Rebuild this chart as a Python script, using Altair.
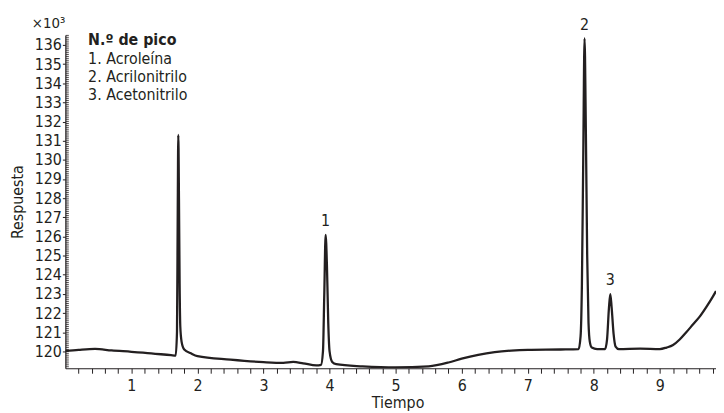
import altair as alt
import pandas as pd

# Chromatogram trace (time in min, response x10^3)
time = [0.0, 0.2, 0.45, 0.7, 1.0, 1.3, 1.6, 1.67, 1.69, 1.70, 1.71, 1.72, 1.73, 1.74, 1.76,
        1.8, 1.9, 2.0, 2.5, 3.0, 3.3, 3.45, 3.6, 3.8, 3.87, 3.9, 3.92, 3.94, 3.96, 3.98,
        4.0, 4.04, 4.1, 4.5, 5.0, 5.5, 5.8, 6.0, 6.25, 6.5, 6.75, 7.0, 7.5, 7.77, 7.80,
        7.82, 7.84, 7.86, 7.88, 7.90, 7.92, 7.94, 7.97, 8.05, 8.17, 8.20, 8.23, 8.25,
        8.27, 8.30, 8.33, 8.38, 8.7, 9.0, 9.1, 9.2, 9.3, 9.4, 9.5, 9.6, 9.7, 9.8, 9.85]
response = [120.02, 120.08, 120.13, 120.05, 119.98, 119.9, 119.8, 119.78, 121.0, 126.5,
            131.3, 128.0, 123.5, 121.3, 120.5, 120.1, 119.9, 119.75, 119.57, 119.44, 119.4,
            119.45, 119.38, 119.27, 119.3, 120.0, 123.0, 126.08, 124.5, 121.5, 120.0, 119.45,
            119.33, 119.22, 119.16, 119.22, 119.42, 119.62, 119.82, 119.96, 120.04, 120.08,
            120.1, 120.12, 120.8, 123.5, 130.0, 136.34, 131.5, 125.0, 121.5, 120.5, 120.2,
            120.12, 120.12, 120.6, 122.3, 122.99, 122.3, 120.9, 120.25, 120.12, 120.15,
            120.12, 120.2, 120.33, 120.62, 121.0, 121.4, 121.8, 122.3, 122.85, 123.15]

peak_time = [3.94, 7.86, 8.25]
peak_resp = [126.08, 136.34, 122.99]
peak_label = ["1", "2", "3"]

legend_title = "N.º de pico"
legend_items = ["1. Acroleína", "2. Acrilonitrilo", "3. Acetonitrilo"]

y_major = list(range(120, 137))

FONT = "Liberation Sans Narrow, DejaVu Sans Condensed, Arial Narrow, sans-serif"
INK = "#231f20"
XDOM = [0, 9.85]
YDOM = [119.12, 136.52]

x_minor = [round(0.2 * i, 1) for i in range(1, 50)]
y_minor = [round(119.2 + 0.1 * i, 1) for i in range(0, 174)]

df = pd.DataFrame({"t": time, "r": response})
peaks = pd.DataFrame({"t": peak_time, "r": peak_resp, "lab": peak_label})
yminor_df = pd.DataFrame({"v": y_minor})

xs = alt.Scale(domain=XDOM, nice=False, zero=False)
ys = alt.Scale(domain=YDOM, nice=False, zero=False)

xaxis = alt.Axis(values=x_minor,
                 labelExpr="datum.value % 1 == 0 ? format(datum.value, 'd') : ''",
                 labelOverlap=False, labelFlush=False,
                 tickSize=5, labelPadding=4, titleY=40, titleX=336,
                 titleBaseline="alphabetic")
yaxis = alt.Axis(values=y_major, format="d", tickSize=3, labelPadding=1,
                 labelOverlap=False, labelFlush=False,
                 titleX=-48, titleBaseline="middle")

line = alt.Chart(df).mark_line(color=INK, strokeWidth=2.3, interpolate="monotone", clip=True).encode(
    x=alt.X("t:Q", scale=xs, title="Tiempo", axis=xaxis),
    y=alt.Y("r:Q", scale=ys, title="Respuesta", axis=yaxis),
)

yminor = alt.Chart(yminor_df).mark_rule(color=INK, strokeWidth=0.8).encode(
    y=alt.Y("v:Q", scale=ys, title="Respuesta", axis=yaxis), x=alt.value(0.5), x2=alt.value(3.5)
)

plabels = alt.Chart(peaks).mark_text(font=FONT, fontSize=16, color=INK, dy=-9,
                                     baseline="alphabetic").encode(
    x=alt.X("t:Q", scale=xs, title="Tiempo", axis=xaxis),
    y=alt.Y("r:Q", scale=ys, title="Respuesta", axis=yaxis),
    text="lab:N"
)

def txt(s, x, y, bold=False, align="left", size=16):
    return alt.Chart(pd.DataFrame({"s": [s]})).mark_text(
        font=FONT, fontSize=size, color=INK, align=align, baseline="alphabetic",
        fontWeight="bold" if bold else "normal").encode(
        x=alt.value(x), y=alt.value(y), text="s:N")

leg = [txt(legend_title, 23, 10, bold=True)]
for i, item in enumerate(legend_items):
    leg.append(txt(item, 23, 29 + 18.5 * i))
mult = txt("×10³", 0, -7, align="right", size=15)

chart = alt.layer(line, yminor, plabels, *leg, mult).properties(
    width=658, height=337,
    autosize=alt.AutoSizeParams(type="none"),
    padding={"left": 58, "top": 25, "right": 0, "bottom": 50},
).configure_view(stroke=None).configure_axis(
    domainColor=INK, tickColor=INK, labelColor=INK, titleColor=INK,
    labelFont=FONT, titleFont=FONT, labelFontSize=16, titleFontSize=16,
    titleFontWeight="normal", grid=False, domainWidth=1.2, tickWidth=1,
)

chart.save("out.html", embed_options={"renderer": "svg", "actions": False})
